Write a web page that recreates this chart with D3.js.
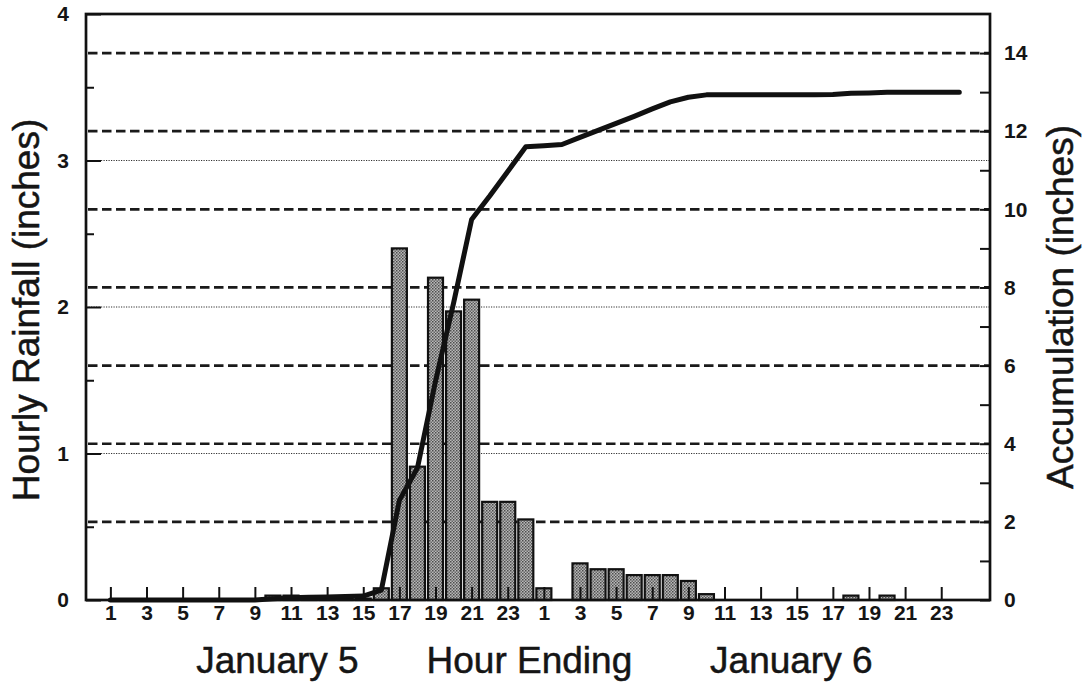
<!DOCTYPE html>
<html>
<head>
<meta charset="utf-8">
<script src="https://cdn.jsdelivr.net/npm/d3@7"></script>
<style>
  body { margin: 0; background: #fff; }
  svg text { font-family: "Liberation Sans", Arial, Helvetica, sans-serif; fill: #151515; }
  .tick text { font-weight: bold; font-size: 21px; }
  .title { stroke: #151515; stroke-width: 0.5px; }
</style>
</head>
<body>
<svg id="chart" width="1087" height="689"></svg>
<script>
// Hour ending, January 5 (1-24) followed by January 6 (25-48)
const hours = [1,2,3,4,5,6,7,8,9,10,11,12,13,14,15,16,17,18,19,20,21,22,23,24,
               25,26,27,28,29,30,31,32,33,34,35,36,37,38,39,40,41,42,43,44,45,46,47,48];

// Hourly rainfall (inches), left axis
const rainfall = [0,0,0,0,0,0,0,0,0, 0.03,0.03,0.01,0.01,0.01,0.01,0.08,
                  2.40,0.91,2.20,1.97,2.05,0.67,0.67,0.55,
                  0.08,0,0.25,0.21,0.21,0.17,0.17,0.17,0.13,0.04,
                  0,0,0,0,0,0,0, 0.03,0,0.03,0,0,0,0];

// Storm accumulation (inches), right axis
const accumulation = [0,0,0,0,0,0,0,0,0, 0.03,0.06,0.07,0.08,0.09,0.10,0.25,
                      2.55,3.38,5.60,7.60,9.74,10.34,10.97,11.60,
                      11.63,11.66,11.84,12.02,12.20,12.38,12.57,12.75,12.87,12.93,
                      12.93,12.93,12.93,12.93,12.93,12.93,12.94,
                      12.97,12.98,13.00,13.00,13.00,13.00,13.00];

// Labelled hours along the bottom
const xTickHours  = [1,3,5,7,9,11,13,15,17,19,21,23,25,27,29,31,33,35,37,39,41,43,45,47];
const xTickLabels = ["1","3","5","7","9","11","13","15","17","19","21","23",
                     "1","3","5","7","9","11","13","15","17","19","21","23"];

const rainTicks  = [0,0.5,1,1.5,2,2.5,3,3.5,4];
const rainLabels = ["0","","1","","2","","3","","4"];
const accumTicks = [0,1,2,3,4,5,6,7,8,9,10,11,12,13,14];
const accumLabels = ["0","","2","","4","","6","","8","","10","","12","","14"];
const dashedLevels = [2,4,6,8,10,12,14];   // accumulation reference lines
const dottedLevels = [1,2,3];              // hourly rainfall reference lines

const dayTitles = ["January 5", "Hour Ending", "January 6"];
const dayTitleHours = [10.25, 24.2, 38.7];

const svg = d3.select("#chart");
const plotL = 86, plotR = 990, plotT = 14, plotB = 600;

const x = d3.scaleLinear().domain([-0.35, 49.7]).range([plotL, plotR]);
const yRain = d3.scaleLinear().domain([0, 4]).range([plotB, plotT]);
const yAcc = d3.scaleLinear().domain([0, 15]).range([plotB, plotT]);

// stippled bar fill
const defs = svg.append("defs");
const pat = defs.append("pattern").attr("id", "stipple")
  .attr("width", 3).attr("height", 3).attr("patternUnits", "userSpaceOnUse");
pat.append("rect").attr("width", 3).attr("height", 3).attr("fill", "#b8b8b8");
pat.append("rect").attr("x", 0).attr("y", 0).attr("width", 1.5).attr("height", 1.5).attr("fill", "#4d4d4d");
pat.append("rect").attr("x", 1.5).attr("y", 1.5).attr("width", 1.5).attr("height", 1.5).attr("fill", "#666");

// reference lines
svg.append("g").selectAll("line").data(dottedLevels).join("line")
  .attr("x1", plotL).attr("x2", plotR)
  .attr("y1", d => yRain(d)).attr("y2", d => yRain(d))
  .attr("stroke", "#333").attr("stroke-width", 1.1).attr("stroke-dasharray", "1.2,1.3");

svg.append("g").selectAll("line").data(dashedLevels).join("line")
  .attr("x1", plotL + 2).attr("x2", plotR)
  .attr("y1", d => yAcc(d)).attr("y2", d => yAcc(d))
  .attr("stroke", "#1a1a1a").attr("stroke-width", 2.7).attr("stroke-dasharray", "9.5,4.5");

// hourly bars
const barW = 15;
svg.append("g").selectAll("rect")
  .data(hours.map((h, i) => ({ h, v: rainfall[i] })).filter(d => d.v > 0))
  .join("rect")
  .attr("x", d => x(d.h) - barW / 2)
  .attr("width", barW)
  .attr("y", d => yRain(d.v))
  .attr("height", d => yRain(0) - yRain(d.v))
  .attr("fill", "url(#stipple)")
  .attr("stroke", "#111").attr("stroke-width", 2.2);

// axes
const xAxis = d3.axisBottom(x).tickValues(xTickHours)
  .tickFormat((d, i) => xTickLabels[i]).tickSizeInner(-13).tickSizeOuter(0).tickPadding(5);
const gx = svg.append("g").attr("transform", `translate(0,${plotB})`).call(xAxis);

const yAxisL = d3.axisLeft(yRain).tickValues(rainTicks)
  .tickFormat((d, i) => rainLabels[i]).tickSizeInner(-8).tickSizeOuter(0).tickPadding(17);
const gl = svg.append("g").attr("transform", `translate(${plotL},0)`).call(yAxisL);
gl.selectAll(".tick line").filter(d => Number.isInteger(d)).attr("x2", 15);

const yAxisR = d3.axisRight(yAcc).tickValues(accumTicks)
  .tickFormat((d, i) => accumLabels[i]).tickSizeInner(-10).tickSizeOuter(0).tickPadding(14);
const gr = svg.append("g").attr("transform", `translate(${plotR},0)`).call(yAxisR);

[gx, gl, gr].forEach(g => {
  g.select(".domain").remove();
  g.selectAll(".tick line").attr("stroke", "#111").attr("stroke-width", 2);
});

// accumulation curve
svg.append("path")
  .datum(hours.map((h, i) => [h, accumulation[i]]))
  .attr("d", d3.line().x(d => x(d[0])).y(d => yAcc(d[1])))
  .attr("fill", "none").attr("stroke", "#111").attr("stroke-width", 5)
  .attr("stroke-linejoin", "round").attr("stroke-linecap", "round");

// plot frame
svg.append("rect").attr("x", plotL).attr("y", plotT)
  .attr("width", plotR - plotL).attr("height", plotB - plotT)
  .attr("fill", "none").attr("stroke", "#111").attr("stroke-width", 2.7);

// titles
svg.append("text").attr("class", "title")
  .attr("transform", `translate(39,${(plotT + plotB) / 2 + 3}) rotate(-90)`)
  .attr("text-anchor", "middle").attr("font-size", 37).text("Hourly Rainfall (inches)");
svg.append("text").attr("class", "title")
  .attr("transform", `translate(1073,${(plotT + plotB) / 2}) rotate(-90)`)
  .attr("text-anchor", "middle").attr("font-size", 37).text("Accumulation (inches)");
svg.append("g").selectAll("text").data(dayTitles).join("text")
  .attr("class", "title")
  .attr("x", (d, i) => x(dayTitleHours[i])).attr("y", 673)
  .attr("text-anchor", "middle").attr("font-size", 37).text(d => d);
</script>
</body>
</html>
